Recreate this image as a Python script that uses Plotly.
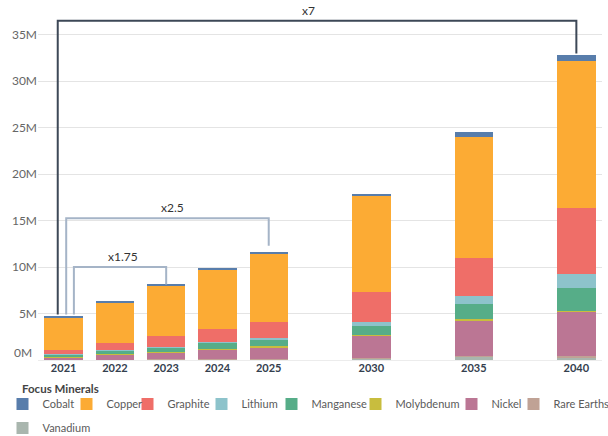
import plotly.graph_objects as go

# ---------------- data (millions) ----------------
years = ["2021", "2022", "2023", "2024", "2025", "2030", "2035", "2040"]
slots = [0, 1, 2, 3, 4, 6, 8, 10]          # horizontal slot of each year on the axis
minerals = ["Cobalt", "Copper", "Graphite", "Lithium", "Manganese",
            "Molybdenum", "Nickel", "Rare Earths", "Vanadium"]

cobalt      = [0.12, 0.11, 0.11, 0.17, 0.22, 0.27, 0.51, 0.62]
copper      = [3.46, 4.37, 5.46, 6.35, 7.36, 10.36, 12.98, 15.78]
graphite    = [0.43, 0.75, 1.11, 1.37, 1.68, 3.20, 4.13, 7.14]
lithium     = [0.07, 0.11, 0.10, 0.14, 0.18, 0.43, 0.79, 1.44]
manganese   = [0.20, 0.32, 0.44, 0.65, 0.68, 1.00, 1.65, 2.58]
molybdenum  = [0.07, 0.10, 0.06, 0.10, 0.18, 0.05, 0.14, 0.05]
nickel      = [0.25, 0.52, 0.75, 1.00, 1.20, 2.40, 3.81, 4.79]
rare_earths = [0.02, 0.02, 0.05, 0.04, 0.07, 0.05, 0.08, 0.08]
vanadium    = [0.03, 0.03, 0.05, 0.06, 0.08, 0.15, 0.40, 0.30]

series = [cobalt, copper, graphite, lithium, manganese,
          molybdenum, nickel, rare_earths, vanadium]

y_ticks = [0, 5, 10, 15, 20, 25, 30, 35]
y_tick_labels = ["0M", "5M", "10M", "15M", "20M", "25M", "30M", "35M"]

# growth brackets: label, from year, to year, bracket height (M)
bracket_labels = ["x7", "x2.5", "x1.75"]
bracket_from = ["2021", "2021", "2021"]
bracket_to = ["2040", "2025", "2023"]
bracket_top = [36.5, 15.25, 10.0]

# ---------------- styles ----------------
colors = ["#587dab", "#fcab34", "#ef6e68", "#8dc3cb", "#56ad88",
          "#c8bd3e", "#bb7694", "#c0a295", "#a9b6ae"]
bracket_colors = ["#3d4857", "#a5b4c7", "#a5b4c7"]
bracket_left_offset = [-0.115, 0.05, 0.2]    # slot units from 2021 centre
bracket_right_gap = [0.2, 0.65, 0.0]          # M above the target bar
bracket_label_shift = [-9, 5, 3]              # px
FONT = "Lato"

W, H = 608, 436
M_L, M_R, M_T, M_B = 38, 6, 5, 76

totals = [sum(v) for v in zip(*series)]

fig = go.Figure()

# stack from bottom (Vanadium) to top (Cobalt)
for i in reversed(range(len(minerals))):
    lg = "legend" if i == 0 else f"legend{i + 1}"
    fig.add_trace(go.Bar(
        x=slots, y=series[i], name=minerals[i],
        marker=dict(color=colors[i], line=dict(width=0)),
        width=0.75, legend=lg,
        hovertemplate="%{y:.2f}M<extra>" + minerals[i] + "</extra>",
    ))

# brackets
for k, lab in enumerate(bracket_labels):
    i0 = years.index(bracket_from[k])
    i1 = years.index(bracket_to[k])
    xl = slots[i0] + bracket_left_offset[k]
    xr = slots[i1]
    yl = totals[i0] + 0.25
    yr = totals[i1] + bracket_right_gap[k]
    top = bracket_top[k]
    path = f"M{xl},{yl} L{xl},{top} L{xr},{top} L{xr},{yr}"
    fig.add_shape(type="path", path=path, xref="x", yref="y",
                  line=dict(color=bracket_colors[k], width=2), layer="above")
    fig.add_annotation(x=(xl + xr) / 2, y=top, text=lab, showarrow=False,
                       xref="x", yref="y", yanchor="bottom", yshift=1,
                       xshift=bracket_label_shift[k],
                       font=dict(family=FONT, size=12, color="#333333"))

# 0M label (Tableau nudges the lowest label up)
fig.add_annotation(x=0, y=0, xref="paper", yref="y", text=y_tick_labels[0],
                   showarrow=False, xanchor="right", xshift=-4, yshift=8,
                   font=dict(family=FONT, size=12, color="#666666"))

# legend title
fig.add_annotation(x=(20 - M_L) / (W - M_L - M_R), y=(H - M_B - 389) / (H - M_T - M_B),
                   xref="paper", yref="paper", text="<b>Focus Minerals</b>",
                   showarrow=False, xanchor="left", yanchor="middle",
                   font=dict(family=FONT, size=11.5, color="#444444"))

# one legend per mineral to reproduce Tableau's legend layout
legend_text_x = [38, 102, 163, 237, 307, 391, 487, 549, 38]
legend_row_y = [404, 404, 404, 404, 404, 404, 404, 404, 428]
for i in range(len(minerals)):
    lg = "legend" if i == 0 else f"legend{i + 1}"
    fig.update_layout({lg: dict(
        x=(legend_text_x[i] - 35.5) / W, y=1 - legend_row_y[i] / H,
        xref="container", yref="container", xanchor="left", yanchor="middle",
        orientation="h", bgcolor="rgba(0,0,0,0)", borderwidth=0,
        itemwidth=30, itemclick=False, itemdoubleclick=False,
        font=dict(family=FONT, size=11, color="#5a5a5a"),
    )})

fig.update_layout(
    width=W, height=H,
    margin=dict(l=M_L, r=M_R, t=M_T, b=M_B),
    paper_bgcolor="white", plot_bgcolor="white",
    barmode="stack", bargap=0,
    showlegend=True,
    font=dict(family=FONT, size=12, color="#555555"),
    xaxis=dict(range=[-0.5, 10.5], tickvals=slots, ticktext=years,
               showgrid=False, zeroline=False, showline=False, ticks="",
               tickfont=dict(family=FONT, size=11, color="#34404e", weight=700),
               fixedrange=True),
    yaxis=dict(range=[0, 38.2], tickvals=y_ticks[1:], ticktext=y_tick_labels[1:],
               showgrid=True, gridcolor="#e4e4e4", gridwidth=1,
               zeroline=True, zerolinecolor="#ececec", zerolinewidth=1,
               showline=False, ticks="",
               tickfont=dict(family=FONT, size=12, color="#666666"),
               fixedrange=True),
)

fig.write_html("out.html")
